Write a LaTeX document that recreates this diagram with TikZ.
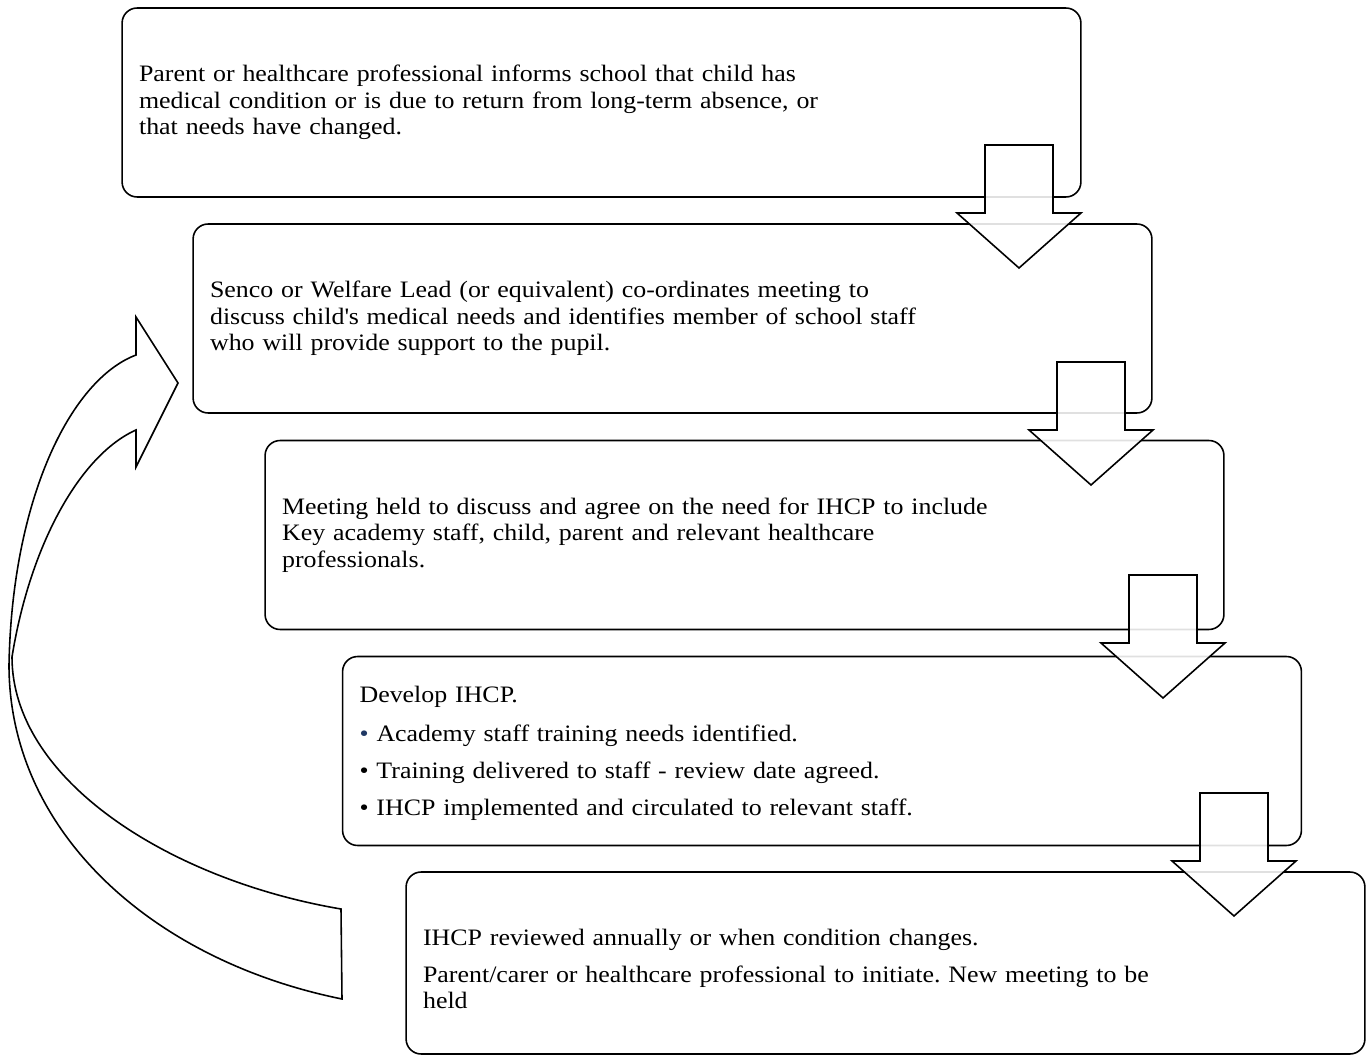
\documentclass[tikz,border=0pt]{standalone}
\usepackage{fontspec}
\setmainfont{Liberation Serif}[FakeStretch=1.1]
\usepackage{xcolor}
\usepackage{tikz}
\usetikzlibrary{positioning,calc}
\definecolor{bulletblue}{RGB}{31,56,100}
\frenchspacing
\tikzset{
    stage/.style={rectangle, draw, rounded corners=0.3cm, line width=0.9pt, minimum width=19.18cm, minimum height=3.78cm, text width=18.5cm, inner xsep=0.32cm, align=left, font=\fontsize{13.4}{15.1}\selectfont},
    downblock/.style={draw, line width=0.9pt, fill=white, fill opacity=0.88, line join=miter},
    loopblock/.style={draw, line width=0.9pt, fill=white, line join=miter}
}

\begin{document}
\begin{tikzpicture}[x=0.02cm, y=-0.02cm]
    \useasboundingbox (0,0) rectangle (1366,1057);

    % Stage boxes
    \node [stage] (inform) at (601.5,102.5) {Parent or healthcare professional informs school that child has\\medical condition or is due to return from long-term absence, or\\that needs have changed.};
    \node [stage] (senco) at (672.5,318.5) {Senco or Welfare Lead (or equivalent) co-ordinates meeting to\\discuss child\textquotesingle s medical needs and identifies member of school staff\\who will provide support to the pupil.};
    \node [stage] (meeting) at (744.5,535) {Meeting held to discuss and agree on the need for IHCP to include\\Key academy staff, child, parent and relevant healthcare\\professionals.};
    \node [stage] (develop) at (822,751) {\rule{0pt}{12pt}Develop IHCP.\\[7pt]
        \textcolor{bulletblue}{\textbullet}\ Academy staff training needs identified.\\[6pt]
        \textbullet\ Training delivered to staff - review date agreed.\\[6pt]
        \textbullet\ IHCP implemented and circulated to relevant staff.};
    \node [stage, minimum height=3.64cm] (review) at (885.5,963) {\rule{0pt}{16pt}IHCP reviewed annually or when condition changes.\\[6pt]
        Parent/carer or healthcare professional to initiate. New meeting to be\\held};

    % Down arrows between stages
    \path [downblock] (1019,145) +(-34,0) -- +(34,0) -- +(34,68) -- +(62,68) -- +(0,123) -- +(-62,68) -- +(-34,68) -- cycle;
    \path [downblock] (1091,362) +(-34,0) -- +(34,0) -- +(34,68) -- +(62,68) -- +(0,123) -- +(-62,68) -- +(-34,68) -- cycle;
    \path [downblock] (1163,575) +(-34,0) -- +(34,0) -- +(34,68) -- +(62,68) -- +(0,123) -- +(-62,68) -- +(-34,68) -- cycle;
    \path [downblock] (1234,793) +(-34,0) -- +(34,0) -- +(34,68) -- +(62,68) -- +(0,123) -- +(-62,68) -- +(-34,68) -- cycle;

    % Review loop back to the second stage
    \path [loopblock] (342,999) .. controls (150,960) and (9,830) .. (9,665)
        .. controls (12,500) and (70,380) .. (136,355)
        -- (136,317) -- (178,383) -- (136,467) -- (136,430)
        .. controls (80,455) and (30,545) .. (12,657)
        .. controls (12,780) and (170,880) .. (341,909) -- cycle;
\end{tikzpicture}
\end{document}
